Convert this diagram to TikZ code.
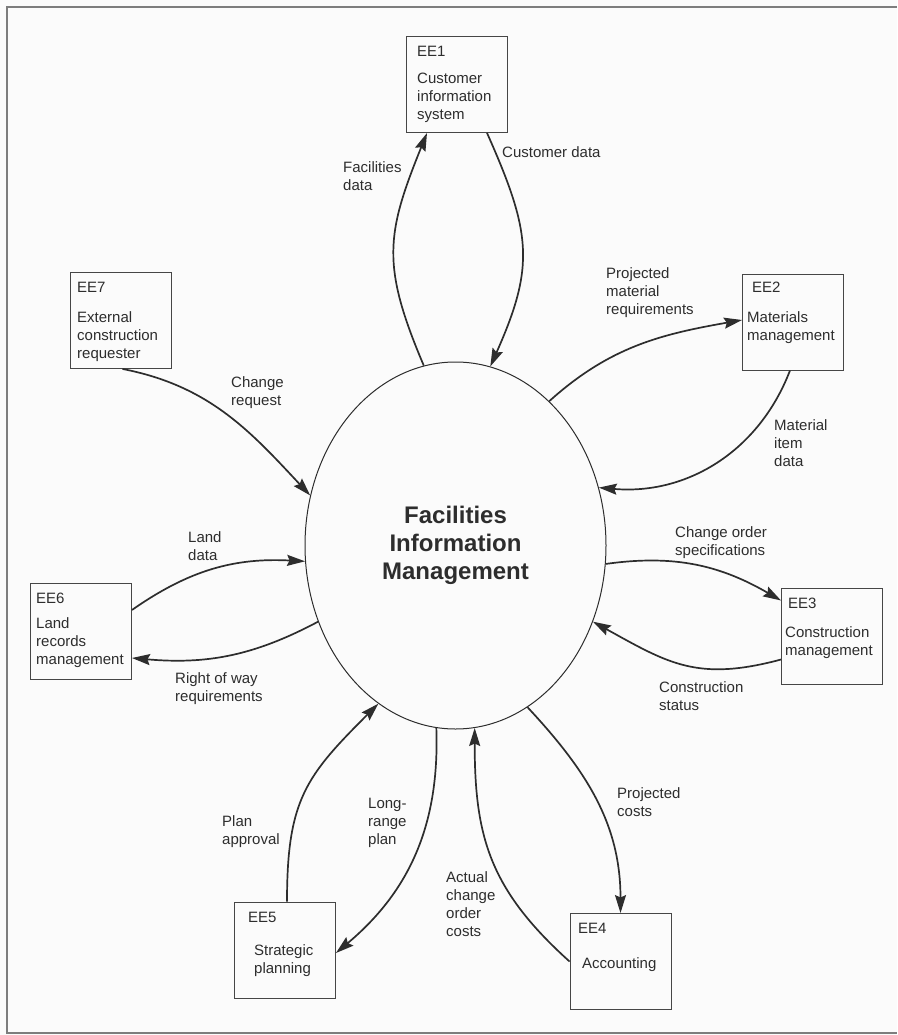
\documentclass[tikz,border=0pt]{standalone}
\usepackage{fontspec}
\setmainfont{Liberation Sans}
\usepackage{tikz}
\usetikzlibrary{arrows.meta,shapes.geometric}
\definecolor{inkgray}{RGB}{45,45,45}
\definecolor{boxgray}{RGB}{70,70,70}
\definecolor{framegray}{RGB}{125,125,125}
\definecolor{paper}{RGB}{251,251,251}

\begin{document}
\begin{tikzpicture}[x=1pt, y=-1pt,
    entity/.style={draw=boxgray, line width=0.9pt, minimum width=101pt, minimum height=96pt, inner sep=0pt},
    entitytext/.style={anchor=north west, align=left, inner sep=0pt, text=inkgray, font=\fontsize{15}{18}\selectfont},
    flowlabel/.style={anchor=north west, align=left, inner sep=0pt, text=inkgray, font=\fontsize{15}{18}\selectfont},
    flow/.style={draw=inkgray, line width=1.7pt, -{Stealth[length=18pt, width=11pt, inset=2.5pt]}},
    process/.style={ellipse, draw=inkgray, line width=1pt, minimum width=301pt, minimum height=367pt, inner sep=0pt,
        align=center, text=inkgray, font=\fontsize{24}{28}\selectfont\bfseries}]

% Page and frame
\fill[paper] (0,0) rectangle (897,1035);
\useasboundingbox (0,0) rectangle (897,1035);
\draw[framegray, line width=1.6pt] (897,7) -- (7,7) -- (7,1033) -- (897,1033);

% Central process
\node[process] (fim) at (455.5,545.5) {Facilities\\Information\\Management};

% External entities
\node[entity] (ee1) at (456.5,84.5) {};
\node[entity] (ee2) at (793,322) {};
\node[entity] (ee3) at (832,636.5) {};
\node[entity] (ee4) at (620.5,961.5) {};
\node[entity] (ee5) at (285,950) {};
\node[entity] (ee6) at (81,631) {};
\node[entity] (ee7) at (120.5,320.5) {};

\node[entitytext] (ee1text) at (417,46) {EE1\\[9pt]Customer\\information\\system};
\node[entitytext] (ee2text) at (747,282) {\hspace*{5pt}EE2\\[12pt]Materials\\management};
\node[entitytext] (ee3text) at (785,598) {\hspace*{3pt}EE3\\[11pt]Construction\\management};
\node[entitytext] (ee4text) at (578,923) {EE4\\[17pt]\hspace*{4pt}Accounting};
\node[entitytext] (ee5text) at (248,912) {EE5\\[15pt]\hspace*{6pt}Strategic\\\hspace*{6pt}planning};
\node[entitytext] (ee6text) at (36,593) {EE6\\[7pt]Land\\records\\management};
\node[entitytext] (ee7text) at (77,282) {EE7\\[12pt]External\\construction\\requester};

% Data flows
\draw[flow] (fim.100) to[out=113, in=-112, looseness=1.2] ([xshift=-29.5pt]ee1.south);
\draw[flow] ([xshift=30.5pt]ee1.south) to[out=-66, in=66, looseness=1.2] (fim.79);
\draw[flow] (fim.57) to[out=42, in=190] ([yshift=2pt]ee2.west);
\draw[flow] ([xshift=-3pt]ee2.south) to[out=-111, in=-5] (fim.22);
\draw[flow] (fim.-7) to[out=8, in=150] ([yshift=36pt]ee3.west);
\draw[flow] ([yshift=-23pt]ee3.west) to[out=195, in=-29, looseness=1.15] (fim.-29);
\draw[flow] (fim.-66) to[out=-47, in=90] (ee4.north);
\draw[flow] (ee4.west) to[out=138, in=-90, looseness=1.1] (fim.-84);
\draw[flow] (fim.-96) to[out=-88, in=40] ([yshift=-3pt]ee5.east);
\draw[flow] ([xshift=2pt]ee5.north) to[out=90, in=-135, looseness=1.2] (fim.-116);
\draw[flow] (fim.-151) to[out=208, in=-5] ([yshift=-27pt]ee6.east);
\draw[flow] ([yshift=21pt]ee6.east) to[out=35, in=177] (fim.186);
\draw[flow] ([xshift=2pt]ee7.south) to[out=-11, in=133] (fim.161);

% Flow labels
\node[flowlabel] (lfacil) at (343,161) {Facilities\\data};
\node[flowlabel] (lcust) at (502,146) {Customer data};
\node[flowlabel] (lchreq) at (231,376) {Change\\request};
\node[flowlabel] (lprojmat) at (606,267) {Projected\\material\\requirements};
\node[flowlabel] (lmatitem) at (774,419) {Material\\item\\data};
\node[flowlabel] (lchorder) at (675,526) {Change order\\specifications};
\node[flowlabel] (lconstat) at (659,681) {Construction\\status};
\node[flowlabel] (lprojcost) at (617,787) {Projected\\costs};
\node[flowlabel] (lactcost) at (446,871) {Actual\\change\\order\\costs};
\node[flowlabel] (llongplan) at (368,798) {Long-\\range\\plan};
\node[flowlabel] (lplanapp) at (222,815) {Plan\\approval};
\node[flowlabel] (lrightway) at (175,672) {Right of way\\requirements};
\node[flowlabel] (lland) at (188,531) {Land\\data};

\end{tikzpicture}
\end{document}
